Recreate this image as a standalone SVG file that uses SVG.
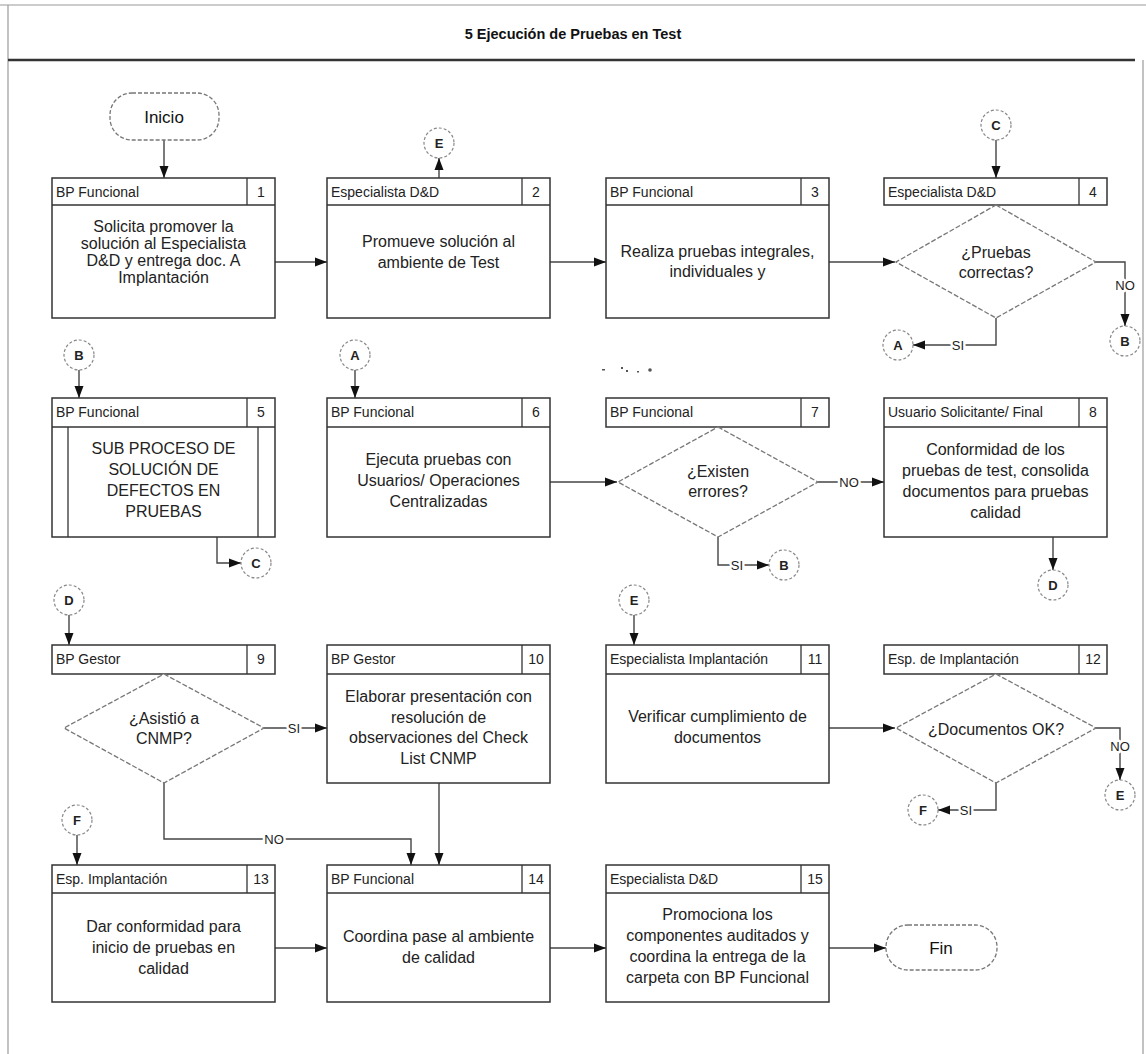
<svg xmlns="http://www.w3.org/2000/svg" width="1146" height="1054" viewBox="0 0 1146 1054">
  <defs>
    <marker id="ah" viewBox="0 0 12 10" refX="12" refY="5" markerWidth="12" markerHeight="10" markerUnits="userSpaceOnUse" orient="auto">
      <path d="M0,0.5 L12,5 L0,9.5 z" fill="#111"/>
    </marker>
    <style>
      .frame { stroke: #9a9a9a; stroke-width: 1.2; fill: none; }
      .rule { stroke: #333; stroke-width: 2.5; }
      .title { font-family: "Liberation Sans", Arial, sans-serif; font-size: 14.5px; font-weight: bold; fill: #111; text-anchor: middle; }
      .box { fill: #fff; stroke: #333; stroke-width: 1.5; }
      .sep { stroke: #333; stroke-width: 1.3; }
      .hd { font-family: "Liberation Sans", Arial, sans-serif; font-size: 14px; fill: #222; }
      .num { font-family: "Liberation Sans", Arial, sans-serif; font-size: 14px; fill: #222; text-anchor: middle; }
      .tx { font-family: "Liberation Sans", Arial, sans-serif; font-size: 16px; fill: #222; text-anchor: middle; }
      .dia { fill: #fff; stroke: #777; stroke-width: 1.3; stroke-dasharray: 5 2; }
      .term { fill: #fff; stroke: #777; stroke-width: 1.3; stroke-dasharray: 4 2; }
      .termtx { font-family: "Liberation Sans", Arial, sans-serif; font-size: 17px; fill: #111; text-anchor: middle; }
      .con { fill: #fff; stroke: #888; stroke-width: 1.2; stroke-dasharray: 3 2; }
      .contx { font-family: "Liberation Sans", Arial, sans-serif; font-size: 13px; font-weight: bold; fill: #222; text-anchor: middle; }
      .ln { fill: none; stroke: #444; stroke-width: 1.4; }
      .lbl { font-family: "Liberation Sans", Arial, sans-serif; font-size: 13px; fill: #222; text-anchor: middle; paint-order: stroke; stroke: #fff; stroke-width: 5px; stroke-linejoin: round; }
      .mark { fill: #555; }
    </style>
  </defs>

  <rect width="1146" height="1054" fill="#fff"/>

  <!-- page frame and header band -->
  <g id="frame">
    <line class="frame" x1="0" y1="5" x2="1146" y2="5"/>
    <line class="frame" x1="8" y1="5" x2="8" y2="1054"/>
    <line class="frame" x1="1143" y1="60" x2="1143" y2="1054"/>
    <line class="rule" x1="8" y1="60" x2="1135" y2="60"/>
    <text class="title" x="573" y="39">5 Ejecución de Pruebas en Test</text>
  </g>

  <!-- connectors -->
  <g id="connectors">
    <!-- row 1 -->
    <line class="ln" x1="164" y1="140" x2="164" y2="178" marker-end="url(#ah)"/>
    <line class="ln" x1="275" y1="262" x2="327" y2="262" marker-end="url(#ah)"/>
    <line class="ln" x1="439" y1="178" x2="439" y2="158" marker-end="url(#ah)"/>
    <line class="ln" x1="550" y1="262" x2="606" y2="262" marker-end="url(#ah)"/>
    <line class="ln" x1="829" y1="262" x2="895" y2="262" marker-end="url(#ah)"/>
    <line class="ln" x1="996" y1="140" x2="996" y2="178" marker-end="url(#ah)"/>
    <polyline class="ln" points="1095,262 1125,262 1125,326" marker-end="url(#ah)"/>
    <text class="lbl" x="1125" y="290">NO</text>
    <polyline class="ln" points="996,318 996,345 913,345" marker-end="url(#ah)"/>
    <text class="lbl" x="958" y="350">SI</text>

    <!-- row 2 -->
    <line class="ln" x1="79" y1="370" x2="79" y2="398" marker-end="url(#ah)"/>
    <line class="ln" x1="355" y1="370" x2="355" y2="398" marker-end="url(#ah)"/>
    <polyline class="ln" points="217,537 217,563 241,563" marker-end="url(#ah)"/>
    <line class="ln" x1="550" y1="482" x2="617" y2="482" marker-end="url(#ah)"/>
    <line class="ln" x1="818" y1="482" x2="884" y2="482" marker-end="url(#ah)"/>
    <text class="lbl" x="849" y="487">NO</text>
    <polyline class="ln" points="718,537 718,565 769,565" marker-end="url(#ah)"/>
    <text class="lbl" x="737" y="570">SI</text>
    <line class="ln" x1="1053" y1="537" x2="1053" y2="570" marker-end="url(#ah)"/>

    <!-- row 3 -->
    <line class="ln" x1="69" y1="615" x2="69" y2="645" marker-end="url(#ah)"/>
    <line class="ln" x1="264" y1="728" x2="327" y2="728" marker-end="url(#ah)"/>
    <text class="lbl" x="294" y="733">SI</text>
    <line class="ln" x1="634" y1="615" x2="634" y2="645" marker-end="url(#ah)"/>
    <line class="ln" x1="829" y1="728" x2="895" y2="728" marker-end="url(#ah)"/>
    <polyline class="ln" points="1095,728 1120,728 1120,780" marker-end="url(#ah)"/>
    <text class="lbl" x="1120" y="751">NO</text>
    <polyline class="ln" points="996,783 996,810 938,810" marker-end="url(#ah)"/>
    <text class="lbl" x="966" y="815">SI</text>

    <!-- row 4 -->
    <line class="ln" x1="77" y1="835" x2="77" y2="865" marker-end="url(#ah)"/>
    <polyline class="ln" points="164,783 164,839 411,839 411,865" marker-end="url(#ah)"/>
    <text class="lbl" x="274" y="844">NO</text>
    <line class="ln" x1="439" y1="783" x2="439" y2="865" marker-end="url(#ah)"/>
    <line class="ln" x1="275" y1="948" x2="327" y2="948" marker-end="url(#ah)"/>
    <line class="ln" x1="550" y1="948" x2="606" y2="948" marker-end="url(#ah)"/>
    <line class="ln" x1="829" y1="948" x2="886" y2="948" marker-end="url(#ah)"/>
  </g>

  <!-- start -->
  <g id="inicio">
    <rect class="term" x="110" y="93" width="109" height="47" rx="22"/>
    <text class="termtx" x="164" y="123">Inicio</text>
  </g>

  <!-- off-page connectors -->
  <g id="con-e1"><circle class="con" cx="439" cy="143" r="15"/><text class="contx" x="439" y="148">E</text></g>
  <g id="con-c1"><circle class="con" cx="996" cy="125" r="15"/><text class="contx" x="996" y="130">C</text></g>
  <g id="con-b1"><circle class="con" cx="1125" cy="341" r="15"/><text class="contx" x="1125" y="346">B</text></g>
  <g id="con-a1"><circle class="con" cx="898" cy="345" r="15"/><text class="contx" x="898" y="350">A</text></g>
  <g id="con-b2"><circle class="con" cx="79" cy="355" r="15"/><text class="contx" x="79" y="360">B</text></g>
  <g id="con-a2"><circle class="con" cx="355" cy="355" r="15"/><text class="contx" x="355" y="360">A</text></g>
  <g id="con-c2"><circle class="con" cx="256" cy="563" r="15"/><text class="contx" x="256" y="568">C</text></g>
  <g id="con-b3"><circle class="con" cx="784" cy="565" r="15"/><text class="contx" x="784" y="570">B</text></g>
  <g id="con-d1"><circle class="con" cx="1053" cy="585" r="15"/><text class="contx" x="1053" y="590">D</text></g>
  <g id="con-d2"><circle class="con" cx="69" cy="600" r="15"/><text class="contx" x="69" y="605">D</text></g>
  <g id="con-e2"><circle class="con" cx="634" cy="600" r="15"/><text class="contx" x="634" y="605">E</text></g>
  <g id="con-e3"><circle class="con" cx="1120" cy="795" r="15"/><text class="contx" x="1120" y="800">E</text></g>
  <g id="con-f1"><circle class="con" cx="923" cy="810" r="15"/><text class="contx" x="923" y="815">F</text></g>
  <g id="con-f2"><circle class="con" cx="77" cy="820" r="15"/><text class="contx" x="77" y="825">F</text></g>

  <!-- 1 -->
  <g id="n1">
    <rect class="box" x="52" y="178" width="223" height="140"/>
    <line class="sep" x1="52" y1="205" x2="275" y2="205"/>
    <line class="sep" x1="247" y1="178" x2="247" y2="205"/>
    <text class="hd" x="56" y="197">BP Funcional</text>
    <text class="num" x="261" y="197">1</text>
    <text class="tx"><tspan x="163.5" y="232">Solicita promover la</tspan><tspan x="163.5" y="249">solución al Especialista</tspan><tspan x="163.5" y="266">D&amp;D y entrega doc. A</tspan><tspan x="163.5" y="283">Implantación</tspan></text>
  </g>

  <!-- 2 -->
  <g id="n2">
    <rect class="box" x="327" y="178" width="223" height="140"/>
    <line class="sep" x1="327" y1="205" x2="550" y2="205"/>
    <line class="sep" x1="522" y1="178" x2="522" y2="205"/>
    <text class="hd" x="331" y="197">Especialista D&amp;D</text>
    <text class="num" x="536" y="197">2</text>
    <text class="tx"><tspan x="438.5" y="247">Promueve solución al</tspan><tspan x="438.5" y="268">ambiente de Test</tspan></text>
  </g>

  <!-- 3 -->
  <g id="n3">
    <rect class="box" x="606" y="178" width="223" height="140"/>
    <line class="sep" x1="606" y1="205" x2="829" y2="205"/>
    <line class="sep" x1="801" y1="178" x2="801" y2="205"/>
    <text class="hd" x="610" y="197">BP Funcional</text>
    <text class="num" x="815" y="197">3</text>
    <text class="tx"><tspan x="717.5" y="257">Realiza pruebas integrales,</tspan><tspan x="717.5" y="277">individuales y</tspan></text>
  </g>

  <!-- 4 -->
  <g id="n4">
    <rect class="box" x="884" y="178" width="223" height="27"/>
    <line class="sep" x1="1079" y1="178" x2="1079" y2="205"/>
    <text class="hd" x="888" y="197">Especialista D&amp;D</text>
    <text class="num" x="1093" y="197">4</text>
    <polygon class="dia" points="996,205 1096,262 996,318 896,262"/>
    <text class="tx"><tspan x="996" y="258">¿Pruebas</tspan><tspan x="996" y="278">correctas?</tspan></text>
  </g>

  <!-- 5 -->
  <g id="n5">
    <rect class="box" x="52" y="398" width="223" height="139"/>
    <line class="sep" x1="52" y1="427" x2="275" y2="427"/>
    <line class="sep" x1="247" y1="398" x2="247" y2="427"/>
    <line class="sep" x1="68" y1="427" x2="68" y2="537"/>
    <line class="sep" x1="258" y1="427" x2="258" y2="537"/>
    <text class="hd" x="56" y="417">BP Funcional</text>
    <text class="num" x="261" y="417">5</text>
    <text class="tx"><tspan x="163.5" y="454">SUB PROCESO DE</tspan><tspan x="163.5" y="475">SOLUCIÓN DE</tspan><tspan x="163.5" y="496">DEFECTOS EN</tspan><tspan x="163.5" y="517">PRUEBAS</tspan></text>
  </g>

  <!-- 6 -->
  <g id="n6">
    <rect class="box" x="327" y="398" width="223" height="139"/>
    <line class="sep" x1="327" y1="427" x2="550" y2="427"/>
    <line class="sep" x1="522" y1="398" x2="522" y2="427"/>
    <text class="hd" x="331" y="417">BP Funcional</text>
    <text class="num" x="536" y="417">6</text>
    <text class="tx"><tspan x="438.5" y="465">Ejecuta pruebas con</tspan><tspan x="438.5" y="486">Usuarios/ Operaciones</tspan><tspan x="438.5" y="507">Centralizadas</tspan></text>
  </g>

  <!-- 7 -->
  <g id="n7">
    <rect class="box" x="606" y="398" width="223" height="29"/>
    <line class="sep" x1="801" y1="398" x2="801" y2="427"/>
    <text class="hd" x="610" y="417">BP Funcional</text>
    <text class="num" x="815" y="417">7</text>
    <polygon class="dia" points="718,427 818,482 718,537 618,482"/>
    <text class="tx"><tspan x="718" y="477">¿Existen</tspan><tspan x="718" y="497">errores?</tspan></text>
  </g>

  <!-- 8 -->
  <g id="n8">
    <rect class="box" x="884" y="398" width="223" height="139"/>
    <line class="sep" x1="884" y1="427" x2="1107" y2="427"/>
    <line class="sep" x1="1079" y1="398" x2="1079" y2="427"/>
    <text class="hd" x="888" y="417">Usuario Solicitante/ Final</text>
    <text class="num" x="1093" y="417">8</text>
    <text class="tx"><tspan x="995.5" y="455">Conformidad de los</tspan><tspan x="995.5" y="476">pruebas de test, consolida</tspan><tspan x="995.5" y="497">documentos para pruebas</tspan><tspan x="995.5" y="518">calidad</tspan></text>
  </g>

  <!-- 9 -->
  <g id="n9">
    <rect class="box" x="52" y="645" width="223" height="29"/>
    <line class="sep" x1="247" y1="645" x2="247" y2="674"/>
    <text class="hd" x="56" y="664">BP Gestor</text>
    <text class="num" x="261" y="664">9</text>
    <polygon class="dia" points="164,674 264,728 164,783 64,728"/>
    <text class="tx"><tspan x="164" y="724">¿Asistió a</tspan><tspan x="164" y="744">CNMP?</tspan></text>
  </g>

  <!-- 10 -->
  <g id="n10">
    <rect class="box" x="327" y="645" width="223" height="138"/>
    <line class="sep" x1="327" y1="674" x2="550" y2="674"/>
    <line class="sep" x1="522" y1="645" x2="522" y2="674"/>
    <text class="hd" x="331" y="664">BP Gestor</text>
    <text class="num" x="536" y="664">10</text>
    <text class="tx"><tspan x="438.5" y="702">Elaborar presentación con</tspan><tspan x="438.5" y="723">resolución de</tspan><tspan x="438.5" y="743">observaciones del Check</tspan><tspan x="438.5" y="764">List CNMP</tspan></text>
  </g>

  <!-- 11 -->
  <g id="n11">
    <rect class="box" x="606" y="645" width="223" height="138"/>
    <line class="sep" x1="606" y1="674" x2="829" y2="674"/>
    <line class="sep" x1="801" y1="645" x2="801" y2="674"/>
    <text class="hd" x="610" y="664">Especialista Implantación</text>
    <text class="num" x="815" y="664">11</text>
    <text class="tx"><tspan x="717.5" y="722">Verificar cumplimiento de</tspan><tspan x="717.5" y="743">documentos</tspan></text>
  </g>

  <!-- 12 -->
  <g id="n12">
    <rect class="box" x="884" y="645" width="223" height="29"/>
    <line class="sep" x1="1079" y1="645" x2="1079" y2="674"/>
    <text class="hd" x="888" y="664">Esp. de Implantación</text>
    <text class="num" x="1093" y="664">12</text>
    <polygon class="dia" points="996,674 1096,728 996,783 896,728"/>
    <text class="tx" x="996" y="735">¿Documentos OK?</text>
  </g>

  <!-- 13 -->
  <g id="n13">
    <rect class="box" x="52" y="865" width="223" height="137"/>
    <line class="sep" x1="52" y1="893" x2="275" y2="893"/>
    <line class="sep" x1="247" y1="865" x2="247" y2="893"/>
    <text class="hd" x="56" y="884">Esp. Implantación</text>
    <text class="num" x="261" y="884">13</text>
    <text class="tx"><tspan x="163.5" y="932">Dar conformidad para</tspan><tspan x="163.5" y="953">inicio de pruebas en</tspan><tspan x="163.5" y="974">calidad</tspan></text>
  </g>

  <!-- 14 -->
  <g id="n14">
    <rect class="box" x="327" y="865" width="223" height="137"/>
    <line class="sep" x1="327" y1="893" x2="550" y2="893"/>
    <line class="sep" x1="522" y1="865" x2="522" y2="893"/>
    <text class="hd" x="331" y="884">BP Funcional</text>
    <text class="num" x="536" y="884">14</text>
    <text class="tx"><tspan x="438.5" y="942">Coordina pase al ambiente</tspan><tspan x="438.5" y="963">de calidad</tspan></text>
  </g>

  <!-- 15 -->
  <g id="n15">
    <rect class="box" x="606" y="865" width="223" height="137"/>
    <line class="sep" x1="606" y1="893" x2="829" y2="893"/>
    <line class="sep" x1="801" y1="865" x2="801" y2="893"/>
    <text class="hd" x="610" y="884">Especialista D&amp;D</text>
    <text class="num" x="815" y="884">15</text>
    <text class="tx"><tspan x="717.5" y="920">Promociona los</tspan><tspan x="717.5" y="941">componentes auditados y</tspan><tspan x="717.5" y="962">coordina la entrega de la</tspan><tspan x="717.5" y="983">carpeta con BP Funcional</tspan></text>
  </g>

  <!-- end -->
  <g id="fin">
    <rect class="term" x="886" y="925" width="111" height="45" rx="22"/>
    <text class="termtx" x="941" y="954">Fin</text>
  </g>

  <!-- stray specks between rows -->
  <g id="specks">
    <rect class="mark" x="602" y="369" width="3" height="1.5"/>
    <rect class="mark" x="621" y="367" width="2" height="2"/>
    <rect class="mark" x="626" y="370" width="2" height="2"/>
    <rect class="mark" x="637" y="371" width="2" height="1.5"/>
    <circle class="mark" cx="650" cy="370" r="1.8"/>
  </g>
</svg>
